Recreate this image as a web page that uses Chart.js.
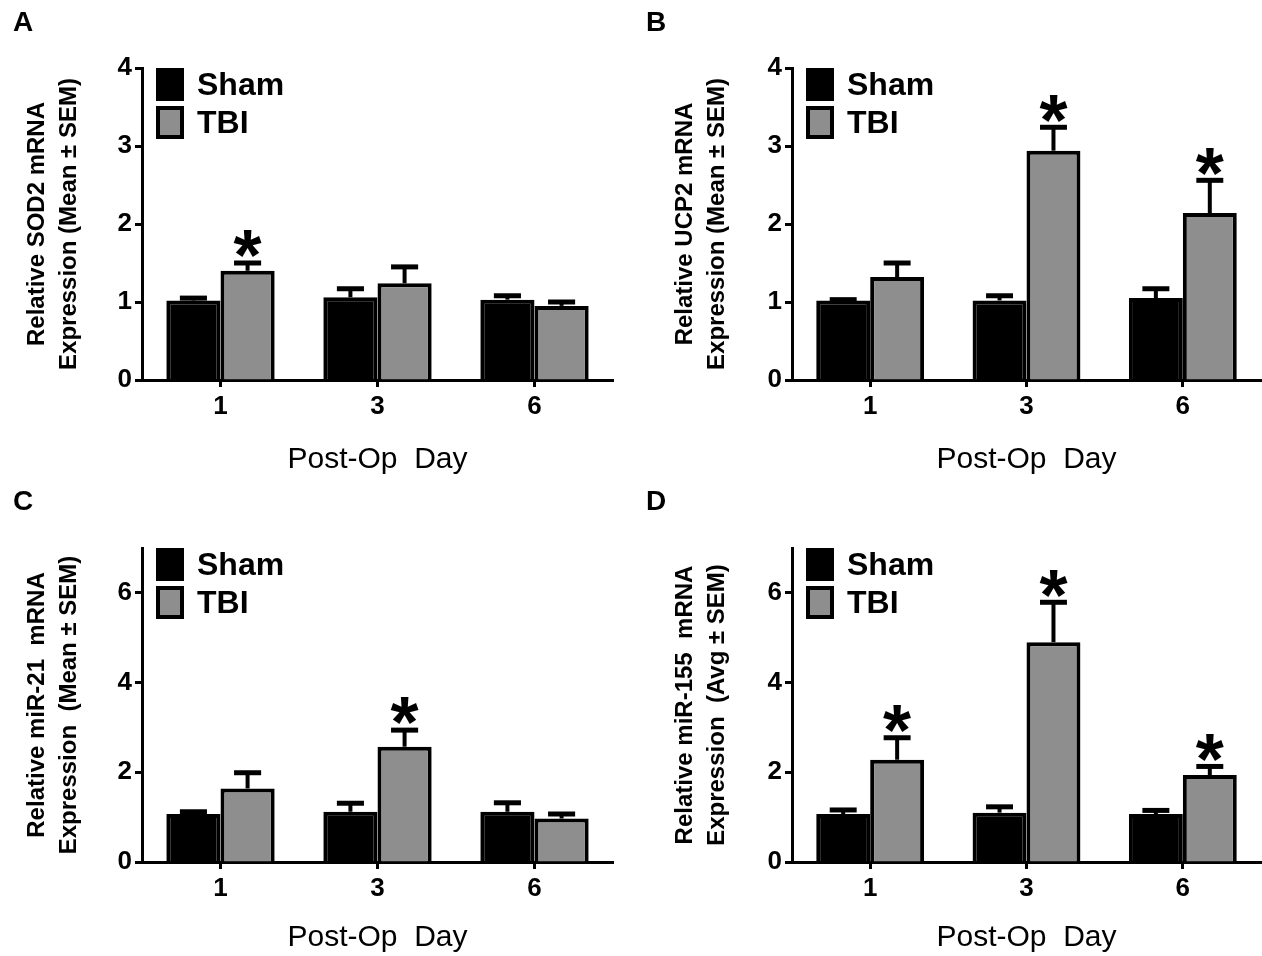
<!DOCTYPE html>
<html>
<head>
<meta charset="utf-8">
<title>Post-Op Day expression</title>
<script src="https://cdn.jsdelivr.net/npm/chart.js@4.4.1/dist/chart.umd.min.js"></script>
<style>
  body { margin: 0; background: #fff; }
  #wrap { position: relative; width: 1262px; height: 956px; overflow: hidden; background: #fff; }
  .panel { position: absolute; }
  .letter { position: absolute; font: bold 28px "Liberation Sans", Arial, sans-serif; line-height: 28px; color: #000; }
</style>
</head>
<body>
<div id="wrap">
  <div class="panel" style="left:0;top:0;width:631px;height:478px"><canvas id="chartA"></canvas></div>
  <div class="panel" style="left:640px;top:0;width:622px;height:478px"><canvas id="chartB"></canvas></div>
  <div class="panel" style="left:0;top:478px;width:631px;height:478px"><canvas id="chartC"></canvas></div>
  <div class="panel" style="left:640px;top:478px;width:622px;height:478px"><canvas id="chartD"></canvas></div>
  <div class="letter" style="left:13px;top:8px">A</div>
  <div class="letter" style="left:646px;top:8px">B</div>
  <div class="letter" style="left:13px;top:487px">C</div>
  <div class="letter" style="left:646px;top:487px">D</div>
</div>
<script>
/* ================= DATA ================= */
const days = ["1", "3", "6"];
const groups = ["Sham", "TBI"];
const xTitle = "Post-Op  Day";

// A: SOD2
const sodSham = [1.02, 1.06, 1.03];
const sodShamErr = [0.03, 0.11, 0.05];
const sodTbi = [1.40, 1.24, 0.95];
const sodTbiErr = [0.10, 0.21, 0.05];
const sodStars = [true, false, false];
const sodTitle = ["Relative SOD2 mRNA", "Expression (Mean \u00b1 SEM)"];

// B: UCP2
const ucpSham = [1.02, 1.02, 1.05];
const ucpShamErr = [0.01, 0.06, 0.12];
const ucpTbi = [1.32, 2.94, 2.14];
const ucpTbiErr = [0.18, 0.30, 0.42];
const ucpStars = [false, true, true];
const ucpTitle = ["Relative UCP2 mRNA", "Expression (Mean \u00b1 SEM)"];

// C: miR-21
const mir21Sham = [1.07, 1.12, 1.12];
const mir21ShamErr = [0.05, 0.19, 0.20];
const mir21Tbi = [1.64, 2.57, 0.97];
const mir21TbiErr = [0.35, 0.37, 0.10];
const mir21Stars = [false, true, false];
const mir21Title = ["Relative miR-21  mRNA", "Expression  (Mean \u00b1 SEM)"];

// D: miR-155
const mir155Sham = [1.07, 1.10, 1.07];
const mir155ShamErr = [0.09, 0.13, 0.08];
const mir155Tbi = [2.28, 4.90, 1.94];
const mir155TbiErr = [0.49, 0.89, 0.19];
const mir155Stars = [true, true, true];
const mir155Title = ["Relative miR-155  mRNA", "Expression  (Avg \u00b1 SEM)"];

// y axis ranges
const yMaxTop = 4, yStepTop = 1;
const yMaxBottom = 7, yStepBottom = 2;

/* ================= STYLE ================= */
const FONT = '"Liberation Sans", Arial, sans-serif';
const SHAM_COLOR = "#000000";
const TBI_COLOR = "#8e8e8e";

Chart.defaults.font.family = FONT;
Chart.defaults.color = "#000";

/* ================= PLUGINS ================= */
const errorBars = {
  id: "errorBars",
  afterDatasetsDraw(chart) {
    const ctx = chart.ctx;
    const y = chart.scales.y;
    ctx.save();
    ctx.strokeStyle = "#000";
    ctx.fillStyle = "#000";
    chart.data.datasets.forEach((ds, di) => {
      const meta = chart.getDatasetMeta(di);
      meta.data.forEach((bar, i) => {
        const top = y.getPixelForValue(ds.data[i] + ds.errors[i]);
        const half = bar.width * 0.25;
        ctx.lineWidth = 4;
        ctx.beginPath();
        ctx.moveTo(bar.x, bar.y);
        ctx.lineTo(bar.x, top);
        ctx.stroke();
        ctx.lineWidth = 5;
        ctx.beginPath();
        ctx.moveTo(bar.x - half, top);
        ctx.lineTo(bar.x + half, top);
        ctx.stroke();
        if (ds.stars && ds.stars[i]) {
          const size = 72;
          ctx.font = `bold ${size}px ${FONT}`;
          ctx.textAlign = "center";
          ctx.textBaseline = "alphabetic";
          ctx.fillText("*", bar.x, top - 10 + 0.38 * size);
        }
      });
    });
    ctx.restore();
  }
};

const boxLegend = {
  id: "boxLegend",
  afterDraw(chart) {
    const { ctx, chartArea } = chart;
    const x = chartArea.left + 14;
    let yy = chartArea.top;
    ctx.save();
    chart.data.datasets.forEach(ds => {
      ctx.fillStyle = ds.backgroundColor;
      ctx.fillRect(x, yy, 28, 33);
      ctx.lineWidth = 4;
      ctx.strokeStyle = "#000";
      ctx.strokeRect(x + 2, yy + 2, 24, 29);
      ctx.fillStyle = "#000";
      ctx.font = `bold 32px ${FONT}`;
      ctx.textBaseline = "middle";
      ctx.textAlign = "left";
      ctx.fillText(ds.label, x + 41, yy + 18);
      yy += 38;
    });
    ctx.restore();
  }
};

/* ================= CHARTS ================= */
function makePanel(id, p) {
  return new Chart(document.getElementById(id), {
    type: "bar",
    data: {
      labels: days,
      datasets: [
        {
          label: groups[0],
          data: p.sham,
          errors: p.shamErr,
          backgroundColor: SHAM_COLOR,
          borderColor: "#000",
          borderWidth: 4
        },
        {
          label: groups[1],
          data: p.tbi,
          errors: p.tbiErr,
          stars: p.stars,
          backgroundColor: TBI_COLOR,
          borderColor: "#000",
          borderWidth: 4
        }
      ]
    },
    options: {
      responsive: true,
      maintainAspectRatio: false,
      animation: false,
      events: [],
      categoryPercentage: 0.69,
      barPercentage: 1.0,
      layout: { padding: { top: p.padTop, right: p.padRight, left: 0, bottom: 0 } },
      plugins: { legend: { display: false }, tooltip: { enabled: false } },
      scales: {
        x: {
          afterFit: s => { s.height = p.xHeight; },
          grid: {
            display: true, offset: false, drawOnChartArea: false, drawTicks: true,
            tickLength: 7, tickWidth: 3, tickColor: "#000"
          },
          border: { display: true, color: "#000", width: 3 },
          ticks: { font: { size: 26, weight: "bold" }, padding: 4, color: "#000" },
          title: {
            display: true, text: xTitle, color: "#000",
            font: { size: 30, weight: "normal" }, padding: { top: 0, bottom: 0 }
          }
        },
        y: {
          min: 0,
          max: p.yMax,
          afterFit: s => { s.width = p.yWidth; },
          grid: {
            display: true, drawOnChartArea: false, drawTicks: true,
            tickLength: 7, tickWidth: 3, tickColor: "#000"
          },
          border: { display: true, color: "#000", width: 3 },
          ticks: {
            stepSize: p.yStep, includeBounds: false, padding: 3,
            font: { size: 26, weight: "bold" }, color: "#000"
          },
          title: {
            display: true, text: p.title, color: "#000",
            font: { size: 24, weight: "bold", lineHeight: 1.33 },
            padding: { top: p.titlePad, bottom: 0 }
          }
        }
      }
    },
    plugins: [errorBars, boxLegend]
  });
}

makePanel("chartA", {
  sham: sodSham, shamErr: sodShamErr, tbi: sodTbi, tbiErr: sodTbiErr, stars: sodStars,
  title: sodTitle, yMax: yMaxTop, yStep: yStepTop,
  padTop: 68, padRight: 18, yWidth: 142, xHeight: 98, titlePad: 21
});
makePanel("chartB", {
  sham: ucpSham, shamErr: ucpShamErr, tbi: ucpTbi, tbiErr: ucpTbiErr, stars: ucpStars,
  title: ucpTitle, yMax: yMaxTop, yStep: yStepTop,
  padTop: 68, padRight: 1, yWidth: 152, xHeight: 98, titlePad: 29
});
makePanel("chartC", {
  sham: mir21Sham, shamErr: mir21ShamErr, tbi: mir21Tbi, tbiErr: mir21TbiErr, stars: mir21Stars,
  title: mir21Title, yMax: yMaxBottom, yStep: yStepBottom,
  padTop: 70, padRight: 18, yWidth: 142, xHeight: 94, titlePad: 21
});
makePanel("chartD", {
  sham: mir155Sham, shamErr: mir155ShamErr, tbi: mir155Tbi, tbiErr: mir155TbiErr, stars: mir155Stars,
  title: mir155Title, yMax: yMaxBottom, yStep: yStepBottom,
  padTop: 70, padRight: 1, yWidth: 152, xHeight: 94, titlePad: 29
});
</script>
</body>
</html>
